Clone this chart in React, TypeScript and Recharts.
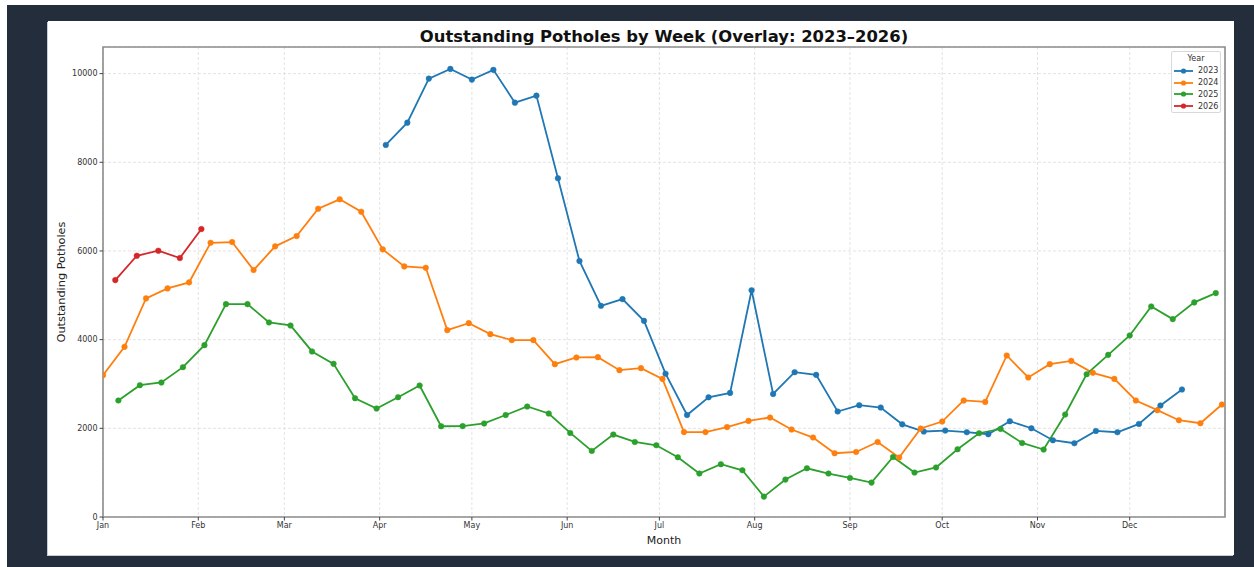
import React from "react";
import { LineChart, Line, XAxis, YAxis, CartesianGrid, Legend, ReferenceArea } from "recharts";

const MONTHS = ["Jan", "Feb", "Mar", "Apr", "May", "Jun", "Jul", "Aug", "Sep", "Oct", "Nov", "Dec"];
const MONTH_START_DAYS = [0, 31, 59, 90, 120, 151, 181, 212, 243, 273, 304, 334];
const Y_TICKS = [0, 2000, 4000, 6000, 8000, 10000];

const YEARS = ["2023", "2024", "2025", "2026"];
const COLORS = ["#1f77b4", "#ff7f0e", "#2ca02c", "#d62728"];
// day-of-year of the first weekly (Monday) reading of each year
const START_DAY = [92, 0, 5, 4];

const V2023 = [8391, 8894, 9887, 10106, 9865, 10084, 9345, 9503, 7639, 5775, 4763, 4914, 4424, 3232, 2300, 2700, 2799, 5114, 2774, 3266, 3206, 2379, 2521, 2469, 2090, 1928, 1950, 1912, 1867, 2160, 2002, 1731, 1664, 1941, 1912, 2099, 2515, 2876];
const V2024 = [3199, 3837, 4930, 5156, 5291, 6185, 6201, 5569, 6104, 6336, 6953, 7165, 6885, 6036, 5652, 5621, 4214, 4372, 4124, 3989, 3989, 3447, 3598, 3605, 3312, 3357, 3115, 1915, 1915, 2028, 2167, 2244, 1973, 1792, 1438, 1467, 1693, 1341, 1996, 2153, 2628, 2596, 3643, 3147, 3447, 3521, 3251, 3115, 2628, 2409, 2183, 2115, 2537];
const V2025 = [2627, 2973, 3034, 3379, 3876, 4801, 4801, 4388, 4320, 3734, 3454, 2679, 2447, 2702, 2966, 2047, 2050, 2110, 2300, 2492, 2334, 1896, 1490, 1860, 1693, 1618, 1348, 980, 1190, 1054, 460, 844, 1099, 980, 880, 776, 1354, 1002, 1118, 1528, 1889, 1986, 1670, 1521, 2311, 3221, 3657, 4095, 4749, 4463, 4840, 5050];
const V2026 = [5343, 5892, 6005, 5840, 6494];

const SERIES_VALUES = [V2023, V2024, V2025, V2026];

const seriesData = SERIES_VALUES.map((vals, s) =>
  vals.map((v, i) => ({ day: START_DAY[s] + 7 * i, v }))
);

const FONT = '"DejaVu Sans", sans-serif';

const LegendBox = () => (
  <div
    style={{
      width: 50,
      height: 62,
      background: "rgba(255,255,255,0.85)",
      border: "1px solid #d9d9d9",
      borderRadius: 2,
      fontFamily: FONT,
      fontSize: 8,
      color: "#333",
      boxSizing: "border-box",
      paddingTop: 1,
    }}
  >
    <div style={{ textAlign: "center", height: 12, lineHeight: "12px" }}>Year</div>
    {YEARS.map((y, i) => (
      <div key={y} style={{ display: "flex", alignItems: "center", height: 11.8 }}>
        <svg width={24} height={10} style={{ marginLeft: 1 }}>
          <line x1={1} y1={5} x2={20} y2={5} stroke={COLORS[i]} strokeWidth={1.8} />
          <circle cx={10.5} cy={5} r={2.6} fill={COLORS[i]} />
        </svg>
        <span style={{ marginLeft: 1 }}>{y}</span>
      </div>
    ))}
  </div>
);

export default function App() {
  return (
    <div style={{ position: "absolute", left: 0, top: 0, width: 1254, height: 567, background: "#ffffff", overflow: "hidden" }}>
      <div style={{ position: "absolute", left: 7, top: 5, width: 1247, height: 562, background: "#242d3c" }} />
      <div
        style={{
          position: "absolute",
          left: 48,
          top: 21,
          width: 1186,
          height: 534,
          background: "#ffffff",
          boxShadow: "-1px 1px 0 #c8ccd2",
        }}
      />
      <div
        style={{
          position: "absolute",
          left: 103,
          width: 1122,
          top: 26,
          textAlign: "center",
          fontFamily: FONT,
          fontWeight: "bold",
          fontSize: 16.4,
          color: "#111",
          lineHeight: "22px",
        }}
      >
        Outstanding Potholes by Week (Overlay: 2023–2026)
      </div>
      <div style={{ position: "absolute", left: 0, top: 0 }}>
        <LineChart width={1254} height={567} margin={{ top: 47, right: 29, bottom: 20, left: 43 }}>
          <CartesianGrid stroke="#dcdcdc" strokeDasharray="3 2" strokeWidth={0.8} />
          <XAxis
            type="number"
            dataKey="day"
            domain={[0, 365]}
            ticks={MONTH_START_DAYS}
            tickFormatter={(d: number) => MONTHS[MONTH_START_DAYS.indexOf(d)]}
            allowDataOverflow
            height={30}
            tickSize={3.5}
            tickMargin={2}
            axisLine={false}
            tickLine={{ stroke: "#444" }}
            tick={{ fontSize: 8, fill: "#333", fontFamily: FONT }}
            label={{ value: "Month", position: "insideBottom", offset: 3, style: { fontSize: 11, fill: "#222", fontFamily: FONT } }}
          />
          <YAxis
            type="number"
            domain={[0, 10600]}
            ticks={Y_TICKS}
            allowDataOverflow
            width={60}
            tickSize={3.5}
            tickMargin={2}
            axisLine={false}
            tickLine={{ stroke: "#444" }}
            tick={{ fontSize: 8, fill: "#333", fontFamily: FONT }}
            label={{
              value: "Outstanding Potholes",
              angle: -90,
              position: "insideLeft",
              offset: 18,
              style: { fontSize: 11.3, fill: "#222", fontFamily: FONT, textAnchor: "middle" },
            }}
          />
          <ReferenceArea x1={0} x2={365} y1={0} y2={10600} fill="none" stroke="#8c8c8c" strokeWidth={1.6} ifOverflow="visible" />
          {YEARS.map((y, i) => (
            <Line
              key={y}
              name={y}
              data={seriesData[i]}
              dataKey="v"
              type="linear"
              stroke={COLORS[i]}
              strokeWidth={1.8}
              dot={{ r: 2.8, fill: COLORS[i], stroke: COLORS[i], strokeWidth: 0.5 }}
              isAnimationActive={false}
            />
          ))}
          <Legend
            layout="horizontal"
            verticalAlign="middle"
            content={() => <LegendBox />}
            wrapperStyle={{ position: "absolute", left: 1171, top: 51, width: 50, height: 62, right: "auto", bottom: "auto" }}
          />
        </LineChart>
      </div>
    </div>
  );
}
